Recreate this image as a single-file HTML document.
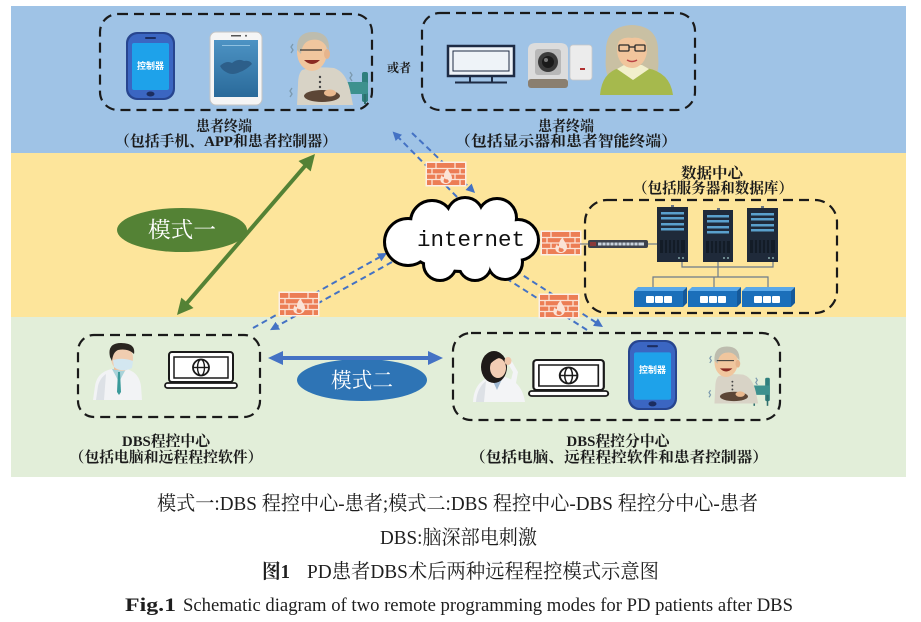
<!DOCTYPE html>
<html><head><meta charset="utf-8">
<style>
html,body{margin:0;padding:0;background:#fff;}
svg{display:block;}
.lb{font-family:"Liberation Serif","Noto Serif CJK SC",serif;font-weight:bold;fill:#1b1b1b;}
.cap{font-family:"Liberation Serif","Noto Serif CJK SC",serif;fill:#1e1e1e;}
.ph{font-family:"Liberation Sans","Noto Sans CJK SC",sans-serif;font-weight:bold;fill:#fff;}
</style></head><body>
<svg width="921" height="622" viewBox="0 0 921 622" xmlns="http://www.w3.org/2000/svg">
<defs>
<marker id="mb" viewBox="0 0 10 10" refX="3" refY="5" markerWidth="4.5" markerHeight="4.5" orient="auto"><path d="M0,0 L10,5 L0,10 z" fill="#4472c4"/></marker>
<linearGradient id="scr" x1="0" y1="0" x2="0" y2="1"><stop offset="0" stop-color="#4d93c4"/><stop offset="1" stop-color="#2a6a9a"/></linearGradient>
</defs>
<rect x="0" y="0" width="921" height="622" fill="#fff"/>
<rect x="11" y="6" width="895" height="147" fill="#9fc3e6"/>
<rect x="11" y="153" width="895" height="164" fill="#fde59b"/>
<rect x="11" y="317" width="895" height="160" fill="#e2eed9"/>

<!-- dashed group boxes -->
<g fill="none" stroke="#1a1a1a" stroke-width="2.2" stroke-dasharray="10 6">
<rect x="100" y="14" width="272" height="96" rx="18"/>
<rect x="422" y="13" width="273" height="97" rx="18"/>
<rect x="585" y="200" width="252" height="113" rx="22"/>
<rect x="78" y="335" width="182" height="82" rx="16"/>
<rect x="453" y="333" width="327" height="87" rx="18"/>
</g>

<!-- blue dashed connectors -->
<g stroke="#4472c4" stroke-width="2" stroke-dasharray="6 4" fill="none" marker-end="url(#mb)">
<line x1="457" y1="197" x2="397" y2="136"/>
<line x1="412" y1="133" x2="470.5" y2="188.6"/>
<line x1="253" y1="328" x2="381.5" y2="256.1"/>
<line x1="392" y1="262" x2="275.5" y2="327"/>
<line x1="587" y1="330" x2="495.3" y2="271.4"/>
<line x1="507" y1="265" x2="597.7" y2="323.6"/>
</g>

<!-- cloud -->
<g stroke="#000" stroke-width="6" fill="#000">
<circle cx="408" cy="242" r="22"/><circle cx="432" cy="222" r="20"/><circle cx="465" cy="216" r="17"/>
<circle cx="497" cy="218" r="18"/><circle cx="518" cy="240" r="19"/><circle cx="505" cy="262" r="16"/>
<circle cx="475" cy="264" r="15"/><circle cx="440" cy="264" r="15"/><ellipse cx="462" cy="240" rx="56" ry="30"/>
</g>
<g fill="#fff">
<circle cx="408" cy="242" r="22"/><circle cx="432" cy="222" r="20"/><circle cx="465" cy="216" r="17"/>
<circle cx="497" cy="218" r="18"/><circle cx="518" cy="240" r="19"/><circle cx="505" cy="262" r="16"/>
<circle cx="475" cy="264" r="15"/><circle cx="440" cy="264" r="15"/><ellipse cx="462" cy="240" rx="56" ry="30"/>
</g>
<text x="417" y="246" font-family="Liberation Mono, monospace" font-size="22" textLength="108" lengthAdjust="spacingAndGlyphs" fill="#111">internet</text>

<!-- firewalls -->
<g transform="translate(427,163)">
<rect x="-1.5" y="-1.5" width="41" height="25" fill="#fbeee6"/>
<rect x="0" y="0" width="38" height="22" fill="#ec7d55"/>
<g stroke="#fbe3d6" stroke-width="1.3">
<line x1="0" y1="5.5" x2="38" y2="5.5"/><line x1="0" y1="11" x2="38" y2="11"/><line x1="0" y1="16.5" x2="38" y2="16.5"/>
<line x1="9" y1="0" x2="9" y2="5.5"/><line x1="28" y1="0" x2="28" y2="5.5"/>
<line x1="5" y1="5.5" x2="5" y2="11"/><line x1="33" y1="5.5" x2="33" y2="11"/>
<line x1="9" y1="11" x2="9" y2="16.5"/><line x1="28" y1="11" x2="28" y2="16.5"/>
<line x1="5" y1="16.5" x2="5" y2="22"/><line x1="33" y1="16.5" x2="33" y2="22"/>
</g>
<path d="M19,21 C13,21 12,16 15,12 C15,14 17,15 17,13 C17,9 19,7 21,5 C21,9 25,11 25,15 C25,19 22,21 19,21 Z" fill="#fbe3d6"/>
<path d="M19,20 C16,20 16,17 18,15 C18,16 19,17 20,16 C21,17 22,18 22,18 C21,20 20,20 19,20Z" fill="#ec7d55"/>
</g>
<g transform="translate(280,293)">
<rect x="-1.5" y="-1.5" width="41" height="25" fill="#fbeee6"/>
<rect x="0" y="0" width="38" height="22" fill="#ec7d55"/>
<g stroke="#fbe3d6" stroke-width="1.3">
<line x1="0" y1="5.5" x2="38" y2="5.5"/><line x1="0" y1="11" x2="38" y2="11"/><line x1="0" y1="16.5" x2="38" y2="16.5"/>
<line x1="9" y1="0" x2="9" y2="5.5"/><line x1="28" y1="0" x2="28" y2="5.5"/>
<line x1="5" y1="5.5" x2="5" y2="11"/><line x1="33" y1="5.5" x2="33" y2="11"/>
<line x1="9" y1="11" x2="9" y2="16.5"/><line x1="28" y1="11" x2="28" y2="16.5"/>
<line x1="5" y1="16.5" x2="5" y2="22"/><line x1="33" y1="16.5" x2="33" y2="22"/>
</g>
<path d="M19,21 C13,21 12,16 15,12 C15,14 17,15 17,13 C17,9 19,7 21,5 C21,9 25,11 25,15 C25,19 22,21 19,21 Z" fill="#fbe3d6"/>
<path d="M19,20 C16,20 16,17 18,15 C18,16 19,17 20,16 C21,17 22,18 22,18 C21,20 20,20 19,20Z" fill="#ec7d55"/>
</g>
<g transform="translate(542,232)">
<rect x="-1.5" y="-1.5" width="41" height="25" fill="#fbeee6"/>
<rect x="0" y="0" width="38" height="22" fill="#ec7d55"/>
<g stroke="#fbe3d6" stroke-width="1.3">
<line x1="0" y1="5.5" x2="38" y2="5.5"/><line x1="0" y1="11" x2="38" y2="11"/><line x1="0" y1="16.5" x2="38" y2="16.5"/>
<line x1="9" y1="0" x2="9" y2="5.5"/><line x1="28" y1="0" x2="28" y2="5.5"/>
<line x1="5" y1="5.5" x2="5" y2="11"/><line x1="33" y1="5.5" x2="33" y2="11"/>
<line x1="9" y1="11" x2="9" y2="16.5"/><line x1="28" y1="11" x2="28" y2="16.5"/>
<line x1="5" y1="16.5" x2="5" y2="22"/><line x1="33" y1="16.5" x2="33" y2="22"/>
</g>
<path d="M19,21 C13,21 12,16 15,12 C15,14 17,15 17,13 C17,9 19,7 21,5 C21,9 25,11 25,15 C25,19 22,21 19,21 Z" fill="#fbe3d6"/>
<path d="M19,20 C16,20 16,17 18,15 C18,16 19,17 20,16 C21,17 22,18 22,18 C21,20 20,20 19,20Z" fill="#ec7d55"/>
</g>
<g transform="translate(540,295)">
<rect x="-1.5" y="-1.5" width="41" height="25" fill="#fbeee6"/>
<rect x="0" y="0" width="38" height="22" fill="#ec7d55"/>
<g stroke="#fbe3d6" stroke-width="1.3">
<line x1="0" y1="5.5" x2="38" y2="5.5"/><line x1="0" y1="11" x2="38" y2="11"/><line x1="0" y1="16.5" x2="38" y2="16.5"/>
<line x1="9" y1="0" x2="9" y2="5.5"/><line x1="28" y1="0" x2="28" y2="5.5"/>
<line x1="5" y1="5.5" x2="5" y2="11"/><line x1="33" y1="5.5" x2="33" y2="11"/>
<line x1="9" y1="11" x2="9" y2="16.5"/><line x1="28" y1="11" x2="28" y2="16.5"/>
<line x1="5" y1="16.5" x2="5" y2="22"/><line x1="33" y1="16.5" x2="33" y2="22"/>
</g>
<path d="M19,21 C13,21 12,16 15,12 C15,14 17,15 17,13 C17,9 19,7 21,5 C21,9 25,11 25,15 C25,19 22,21 19,21 Z" fill="#fbe3d6"/>
<path d="M19,20 C16,20 16,17 18,15 C18,16 19,17 20,16 C21,17 22,18 22,18 C21,20 20,20 19,20Z" fill="#ec7d55"/>
</g>

<!-- data center -->
<g stroke="#6d7b8a" stroke-width="1.2" fill="none">
<line x1="580" y1="244" x2="588" y2="244"/>
<line x1="648" y1="244" x2="657" y2="244"/>
<polyline points="682,262 682,267 773,267 773,262"/>
<line x1="718" y1="262" x2="718" y2="277"/>
<polyline points="653,288 653,277 768,277 768,288"/>
<line x1="714" y1="277" x2="714" y2="288"/>
</g>
<rect x="588" y="240" width="60" height="8" rx="2" fill="#3c414c"/>
<g fill="#c9d3de"><rect x="598" y="242.5" width="46" height="3"/></g>
<rect x="590" y="242" width="6" height="4" fill="#8a3a3a"/>
<g stroke="#3c414c" stroke-width="0.8"><line x1="602" y1="242" x2="602" y2="246"/><line x1="606" y1="242" x2="606" y2="246"/><line x1="610" y1="242" x2="610" y2="246"/><line x1="614" y1="242" x2="614" y2="246"/><line x1="618" y1="242" x2="618" y2="246"/><line x1="622" y1="242" x2="622" y2="246"/><line x1="626" y1="242" x2="626" y2="246"/><line x1="630" y1="242" x2="630" y2="246"/><line x1="634" y1="242" x2="634" y2="246"/><line x1="638" y1="242" x2="638" y2="246"/></g>

<g transform="translate(657,207)">
<rect width="31" height="55" fill="#1f2a3a"/><rect x="14" y="-2" width="3" height="2" fill="#6a7580"/>
<rect x="4" y="5" width="23" height="2.5" fill="#5aa0cc"/><rect x="4" y="10" width="23" height="2.5" fill="#5aa0cc"/>
<rect x="4" y="16" width="23" height="2.5" fill="#5aa0cc"/><rect x="4" y="21" width="23" height="2.5" fill="#5aa0cc"/>
<rect x="3" y="33" width="25" height="13" fill="#131c27"/>
<g stroke="#2e3d50" stroke-width="0.8"><line x1="7" y1="33" x2="7" y2="46"/><line x1="11" y1="33" x2="11" y2="46"/><line x1="15" y1="33" x2="15" y2="46"/><line x1="19" y1="33" x2="19" y2="46"/><line x1="23" y1="33" x2="23" y2="46"/></g>
<circle cx="22" cy="51" r="1" fill="#8aa"/><circle cx="26" cy="51" r="1" fill="#8aa"/>
</g>
<g transform="translate(703,210)">
<rect width="30" height="52" fill="#1f2a3a"/><rect x="14" y="-2" width="3" height="2" fill="#6a7580"/>
<rect x="4" y="5" width="22" height="2.5" fill="#5aa0cc"/><rect x="4" y="10" width="22" height="2.5" fill="#5aa0cc"/>
<rect x="4" y="16" width="22" height="2.5" fill="#5aa0cc"/><rect x="4" y="21" width="22" height="2.5" fill="#5aa0cc"/>
<rect x="3" y="31" width="24" height="12" fill="#131c27"/>
<g stroke="#2e3d50" stroke-width="0.8"><line x1="7" y1="31" x2="7" y2="43"/><line x1="11" y1="31" x2="11" y2="43"/><line x1="15" y1="31" x2="15" y2="43"/><line x1="19" y1="31" x2="19" y2="43"/><line x1="23" y1="31" x2="23" y2="43"/></g>
<circle cx="21" cy="48" r="1" fill="#8aa"/><circle cx="25" cy="48" r="1" fill="#8aa"/>
</g>
<g transform="translate(747,208)">
<rect width="31" height="54" fill="#1f2a3a"/><rect x="14" y="-2" width="3" height="2" fill="#6a7580"/>
<rect x="4" y="5" width="23" height="2.5" fill="#5aa0cc"/><rect x="4" y="10" width="23" height="2.5" fill="#5aa0cc"/>
<rect x="4" y="16" width="23" height="2.5" fill="#5aa0cc"/><rect x="4" y="21" width="23" height="2.5" fill="#5aa0cc"/>
<rect x="3" y="32" width="25" height="13" fill="#131c27"/>
<g stroke="#2e3d50" stroke-width="0.8"><line x1="7" y1="32" x2="7" y2="45"/><line x1="11" y1="32" x2="11" y2="45"/><line x1="15" y1="32" x2="15" y2="45"/><line x1="19" y1="32" x2="19" y2="45"/><line x1="23" y1="32" x2="23" y2="45"/></g>
<circle cx="22" cy="50" r="1" fill="#8aa"/><circle cx="26" cy="50" r="1" fill="#8aa"/>
</g>

<g transform="translate(634,287)">
<polygon points="0,4 4,0 53,0 49,4" fill="#5aa8e8"/><rect x="0" y="4" width="49" height="16" fill="#1b6fba"/><polygon points="49,4 53,0 53,16 49,20" fill="#15599a"/>
<rect x="12" y="9" width="8" height="7" rx="1" fill="#fff"/><rect x="21" y="9" width="8" height="7" rx="1" fill="#fff"/><rect x="30" y="9" width="8" height="7" rx="1" fill="#fff"/>
</g>
<g transform="translate(688,287)">
<polygon points="0,4 4,0 53,0 49,4" fill="#5aa8e8"/><rect x="0" y="4" width="49" height="16" fill="#1b6fba"/><polygon points="49,4 53,0 53,16 49,20" fill="#15599a"/>
<rect x="12" y="9" width="8" height="7" rx="1" fill="#fff"/><rect x="21" y="9" width="8" height="7" rx="1" fill="#fff"/><rect x="30" y="9" width="8" height="7" rx="1" fill="#fff"/>
</g>
<g transform="translate(742,287)">
<polygon points="0,4 4,0 53,0 49,4" fill="#5aa8e8"/><rect x="0" y="4" width="49" height="16" fill="#1b6fba"/><polygon points="49,4 53,0 53,16 49,20" fill="#15599a"/>
<rect x="12" y="9" width="8" height="7" rx="1" fill="#fff"/><rect x="21" y="9" width="8" height="7" rx="1" fill="#fff"/><rect x="30" y="9" width="8" height="7" rx="1" fill="#fff"/>
</g>

<!-- top-left: controller phone -->
<g transform="translate(126,32)">
<rect x="0" y="0" width="49" height="68" rx="11" fill="#27458f"/>
<rect x="2" y="2" width="45" height="64" rx="10" fill="#3b66c2"/>
<rect x="6" y="11" width="37" height="47" rx="2" fill="#1ea2ea"/>
<rect x="19" y="5" width="11" height="2" rx="1" fill="#1c2d60"/>
<ellipse cx="24.5" cy="62" rx="4" ry="2.5" fill="#1c2d60"/>
<text x="24.5" y="37" font-size="9" text-anchor="middle" class="ph">控制器</text>
</g>
<!-- white smartphone -->
<rect x="210" y="32" width="52" height="73" rx="6" fill="#f5f5f5" stroke="#c4c4c4" stroke-width="1"/>
<rect x="214" y="40" width="44" height="57" fill="url(#scr)"/>
<rect x="231" y="35" width="10" height="1.5" fill="#555"/>
<circle cx="246" cy="35.8" r="1" fill="#555"/>
<path d="M220,66 Q226,60 232,63 Q238,58 244,61 Q250,60 252,64 Q246,70 240,72 Q232,76 226,72 Q222,70 220,66Z" fill="#2d5f8a"/>
<rect x="222" y="45" width="28" height="1" fill="#8fc0e0"/>

<!-- old man top -->
<g transform="translate(290,30)">
<rect x="72" y="42" width="6" height="30" rx="2" fill="#2f7f7d"/>
<rect x="54" y="52" width="24" height="12" rx="2" fill="#3d918e"/>
<line x1="58" y1="64" x2="58" y2="74" stroke="#2f6f6d" stroke-width="2"/><line x1="75" y1="64" x2="75" y2="74" stroke="#2f6f6d" stroke-width="2"/>
<path d="M12,40 Q24,36 44,38 Q56,42 60,60 L63,75 L7,75 L8,55 Q8,44 12,40Z" fill="#d8d3c6"/>
<circle cx="30" cy="47" r="1.2" fill="#444"/><circle cx="30" cy="52" r="1.2" fill="#444"/><circle cx="30" cy="57" r="1.2" fill="#444"/>
<ellipse cx="32" cy="66" rx="18" ry="6" fill="#5c4636"/>
<ellipse cx="40" cy="63" rx="6" ry="3.5" fill="#e9b98f"/>
<ellipse cx="22" cy="22" rx="15" ry="19" fill="#f0c69e"/>
<path d="M7,20 Q6,2 23,2 Q40,2 39,20 L36,16 Q31,8 21,10 Q12,12 11,24 Z" fill="#bdbcae"/>
<ellipse cx="37" cy="24" rx="3" ry="5" fill="#e6b48c"/>
<line x1="10" y1="20" x2="32" y2="20" stroke="#333" stroke-width="1.3"/>
<path d="M14,30 Q22,38 30,30 Z" fill="#8a2a22"/>
<g stroke="#7b99ae" stroke-width="1.3" fill="none"><path d="M3,14 l-2,3 l2,3 l-2,3"/><path d="M2,58 l-2,3 l2,3 l-2,3"/><path d="M60,42 l2,3 l-2,3 l2,3"/></g>
</g>

<!-- top-right: monitor -->
<rect x="448" y="46" width="66" height="30" fill="#eef3f8" stroke="#1d2b44" stroke-width="2.5"/>
<rect x="453" y="51" width="56" height="20" fill="none" stroke="#1d2b44" stroke-width="1"/>
<line x1="470" y1="77" x2="470" y2="82" stroke="#1d2b44" stroke-width="2"/>
<line x1="492" y1="77" x2="492" y2="82" stroke="#1d2b44" stroke-width="2"/>
<line x1="455" y1="82.5" x2="507" y2="82.5" stroke="#1d2b44" stroke-width="2"/>
<!-- camera -->
<rect x="570" y="45" width="22" height="35" rx="3" fill="#ececec" stroke="#c8c8c8" stroke-width="0.8"/>
<rect x="580" y="68" width="5" height="2" fill="#b03030"/>
<path d="M528,50 Q528,43 536,43 L560,43 Q568,43 568,50 L568,84 Q568,88 560,88 L536,88 Q528,88 528,84 Z" fill="#dcdcdc"/>
<rect x="528" y="79" width="40" height="9" rx="3" fill="#8a7f70"/>
<rect x="535" y="49" width="26" height="26" rx="3" fill="#b8b8b8"/>
<circle cx="548" cy="62" r="10" fill="#3a3a3a"/>
<circle cx="548" cy="62" r="6" fill="#1a1a1a"/>
<circle cx="546" cy="60" r="2" fill="#777"/>
<!-- woman -->
<path d="M606,55 Q604,26 632,25 Q660,26 658,55 Q660,75 652,84 L612,84 Q604,75 606,55Z" fill="#c9c0a3"/>
<path d="M600,95 Q602,72 620,68 L646,68 Q670,72 673,95 Z" fill="#a6b94d"/>
<rect x="626" y="62" width="13" height="8" fill="#ecbf96"/>
<polygon points="617,69 633,80 649,69 642,65 624,65" fill="#f2efcc"/>
<ellipse cx="632" cy="50" rx="15" ry="18" fill="#f1c59c"/>
<path d="M616,44 Q620,30 633,31 Q646,31 649,44 Q640,36 632,38 Q622,36 616,44Z" fill="#c9c0a3"/>
<g fill="none" stroke="#2a2a2a" stroke-width="1.3"><rect x="619" y="45" width="10" height="6" rx="1"/><rect x="635" y="45" width="10" height="6" rx="1"/><line x1="629" y1="47" x2="635" y2="47"/></g>
<path d="M627,60 Q632,63 637,60" stroke="#b44" stroke-width="1.5" fill="none"/>

<!-- bottom-left: doctor man -->
<path d="M93,400 L95,386 Q97,372 112,369 L126,369 Q139,372 141,386 L142,400 Z" fill="#f2f3f5"/>
<path d="M96,400 L98,386 Q100,378 106,374 L104,400Z" fill="#dde1e6"/>
<path d="M112,369 L119,382 L126,369 Z" fill="#a9d3da"/>
<path d="M118,372 L120,372 L121,392 L119,395 L117,392Z" fill="#3a9a9a"/>
<rect x="114" y="362" width="10" height="8" fill="#e8c0a0"/>
<ellipse cx="122" cy="358" rx="11" ry="13" fill="#f0cdb0"/>
<path d="M110,357 Q107,343 121,343 Q136,343 134,354 Q128,348 118,350 Q113,352 112,361 Z" fill="#2a2520"/>
<path d="M113,360 Q122,357 133,361 L132,368 Q122,373 114,367 Z" fill="#d3e7f0"/>
<!-- laptop left -->
<g transform="translate(165,352)" fill="none" stroke="#1a1a1a">
<rect x="4" y="0" width="64" height="30" rx="3" stroke-width="2" fill="#fff"/>
<rect x="9" y="5" width="54" height="21" stroke-width="1.5"/>
<circle cx="36" cy="15.5" r="8" stroke-width="1.8"/>
<ellipse cx="36" cy="15.5" rx="3.5" ry="8" stroke-width="1.4"/>
<line x1="28" y1="15.5" x2="44" y2="15.5" stroke-width="1.4"/>
<rect x="0" y="31" width="72" height="5" rx="2.5" stroke-width="1.8" fill="#fff"/>
</g>

<!-- bottom-right: woman doctor -->
<path d="M473,402 Q474,382 490,377 L505,377 Q522,382 525,402 Z" fill="#f3f4f6"/>
<path d="M476,402 Q477,388 486,381 L484,402Z" fill="#dde1e6"/>
<polygon points="491,377 497,390 503,377" fill="#9fb7d0"/>
<ellipse cx="494" cy="367" rx="13" ry="16" fill="#1e1a18"/>
<ellipse cx="498" cy="368" rx="8" ry="10" fill="#f2cdb4"/>
<path d="M486,360 Q492,352 504,358 Q498,356 490,364Z" fill="#1e1a18"/>
<path d="M508,392 L513,372 L507,362 L511,360 L518,372 L514,394Z" fill="#f3f4f6"/>
<ellipse cx="508" cy="361" rx="3.5" ry="4" fill="#f0c8ac"/>
<!-- laptop right -->
<g transform="translate(529,360) scale(1.1,1)" fill="none" stroke="#1a1a1a">
<rect x="4" y="0" width="64" height="30" rx="3" stroke-width="2" fill="#fff"/>
<rect x="9" y="5" width="54" height="21" stroke-width="1.5"/>
<circle cx="36" cy="15.5" r="8" stroke-width="1.8"/>
<ellipse cx="36" cy="15.5" rx="3.5" ry="8" stroke-width="1.4"/>
<line x1="28" y1="15.5" x2="44" y2="15.5" stroke-width="1.4"/>
<rect x="0" y="31" width="72" height="5" rx="2.5" stroke-width="1.8" fill="#fff"/>
</g>
<!-- bottom controller -->
<g transform="translate(628,340) scale(1,1.03)">
<rect x="0" y="0" width="49" height="68" rx="11" fill="#27458f"/>
<rect x="2" y="2" width="45" height="64" rx="10" fill="#3b66c2"/>
<rect x="6" y="12" width="37" height="46" rx="2" fill="#1ea2ea"/>
<rect x="19" y="5" width="11" height="2" rx="1" fill="#1c2d60"/>
<ellipse cx="24.5" cy="62" rx="4" ry="2.5" fill="#1c2d60"/>
<text x="24.5" y="32" font-size="9" text-anchor="middle" class="ph">控制器</text>
</g>
<!-- old man bottom -->
<g transform="translate(709,345) scale(0.78)">
<rect x="72" y="42" width="6" height="30" rx="2" fill="#2f7f7d"/>
<rect x="54" y="52" width="24" height="12" rx="2" fill="#3d918e"/>
<line x1="58" y1="64" x2="58" y2="78" stroke="#2f6f6d" stroke-width="2"/><line x1="75" y1="64" x2="75" y2="78" stroke="#2f6f6d" stroke-width="2"/>
<path d="M12,40 Q24,36 44,38 Q56,42 60,60 L63,75 L7,75 L8,55 Q8,44 12,40Z" fill="#d8d3c6"/>
<circle cx="30" cy="47" r="1.2" fill="#444"/><circle cx="30" cy="52" r="1.2" fill="#444"/><circle cx="30" cy="57" r="1.2" fill="#444"/>
<ellipse cx="32" cy="66" rx="18" ry="6" fill="#5c4636"/>
<ellipse cx="40" cy="63" rx="6" ry="3.5" fill="#e9b98f"/>
<ellipse cx="22" cy="22" rx="15" ry="19" fill="#f0c69e"/>
<path d="M7,20 Q6,2 23,2 Q40,2 39,20 L36,16 Q31,8 21,10 Q12,12 11,24 Z" fill="#bdbcae"/>
<ellipse cx="37" cy="24" rx="3" ry="5" fill="#e6b48c"/>
<line x1="10" y1="20" x2="32" y2="20" stroke="#333" stroke-width="1.3"/>
<path d="M14,30 Q22,38 30,30 Z" fill="#8a2a22"/>
<g stroke="#7b99ae" stroke-width="1.5" fill="none"><path d="M3,14 l-2,3 l2,3 l-2,3"/><path d="M2,58 l-2,3 l2,3 l-2,3"/><path d="M60,42 l2,3 l-2,3 l2,3"/></g>
</g>

<!-- mode ellipses -->
<ellipse cx="182" cy="230" rx="65" ry="22" fill="#548235"/>
<text x="182" y="237.5" text-anchor="middle" font-family="Liberation Serif, Noto Serif CJK SC, serif" font-size="22" textLength="68" lengthAdjust="spacingAndGlyphs" fill="#fff">模式一</text>
<ellipse cx="362" cy="380" rx="65" ry="21" fill="#2e74b5"/>
<text x="362" y="387.5" text-anchor="middle" font-family="Liberation Serif, Noto Serif CJK SC, serif" font-size="21" textLength="62" lengthAdjust="spacingAndGlyphs" fill="#fff">模式二</text>

<!-- green double arrow -->
<line x1="187" y1="303" x2="305" y2="166" stroke="#548235" stroke-width="4"/>
<polygon points="315,154 310.7,171.4 298.5,161" fill="#548235"/>
<polygon points="177,315 181.3,297.6 193.5,308" fill="#548235"/>
<!-- blue double arrow -->
<line x1="282" y1="358" x2="429" y2="358" stroke="#4472c4" stroke-width="4"/>
<polygon points="268,358 283,351 283,365" fill="#4472c4"/>
<polygon points="443,358 428,351 428,365" fill="#4472c4"/>

<!-- labels -->
<text class="lb" x="224" y="131" font-size="15" text-anchor="middle" textLength="56" lengthAdjust="spacingAndGlyphs">患者终端</text>
<text class="lb" x="226" y="146" font-size="15" text-anchor="middle" textLength="222" lengthAdjust="spacingAndGlyphs">（包括手机、APP和患者控制器）</text>
<text class="lb" x="399" y="72" font-size="12" text-anchor="middle" textLength="24" lengthAdjust="spacingAndGlyphs">或者</text>
<text class="lb" x="566" y="131" font-size="15" text-anchor="middle" textLength="56" lengthAdjust="spacingAndGlyphs">患者终端</text>
<text class="lb" x="566" y="146" font-size="15" text-anchor="middle" textLength="222" lengthAdjust="spacingAndGlyphs">（包括显示器和患者智能终端）</text>
<text class="lb" x="712" y="178" font-size="15" text-anchor="middle" textLength="62" lengthAdjust="spacingAndGlyphs">数据中心</text>
<text class="lb" x="713" y="193" font-size="15" text-anchor="middle" textLength="160" lengthAdjust="spacingAndGlyphs">（包括服务器和数据库）</text>
<text class="lb" x="166" y="446" font-size="15" text-anchor="middle" textLength="88" lengthAdjust="spacingAndGlyphs">DBS程控中心</text>
<text class="lb" x="166" y="462" font-size="15" text-anchor="middle" textLength="193" lengthAdjust="spacingAndGlyphs">（包括电脑和远程程控软件）</text>
<text class="lb" x="618" y="446" font-size="15" text-anchor="middle" textLength="103" lengthAdjust="spacingAndGlyphs">DBS程控分中心</text>
<text class="lb" x="619" y="462" font-size="15" text-anchor="middle" textLength="298" lengthAdjust="spacingAndGlyphs">（包括电脑、远程程控软件和患者控制器）</text>

<!-- captions -->
<text class="cap" x="157" y="510" font-size="20" textLength="601" lengthAdjust="spacingAndGlyphs">模式一:DBS 程控中心-患者;模式二:DBS 程控中心-DBS 程控分中心-患者</text>
<text class="cap" x="380" y="544" font-size="20" textLength="157" lengthAdjust="spacingAndGlyphs">DBS:脑深部电刺激</text>
<text class="cap" x="262" y="578" font-size="20" font-weight="bold" textLength="28" lengthAdjust="spacingAndGlyphs">图1</text>
<text class="cap" x="307" y="578" font-size="20" textLength="352" lengthAdjust="spacingAndGlyphs">PD患者DBS术后两种远程程控模式示意图</text>
<text class="cap" x="125" y="611" font-size="19" font-weight="bold" textLength="51" lengthAdjust="spacingAndGlyphs">Fig.1</text>
<text class="cap" x="183" y="611" font-size="19" textLength="610" lengthAdjust="spacingAndGlyphs">Schematic diagram of two remote programming modes for PD patients after DBS</text>
</svg>
</body></html>
